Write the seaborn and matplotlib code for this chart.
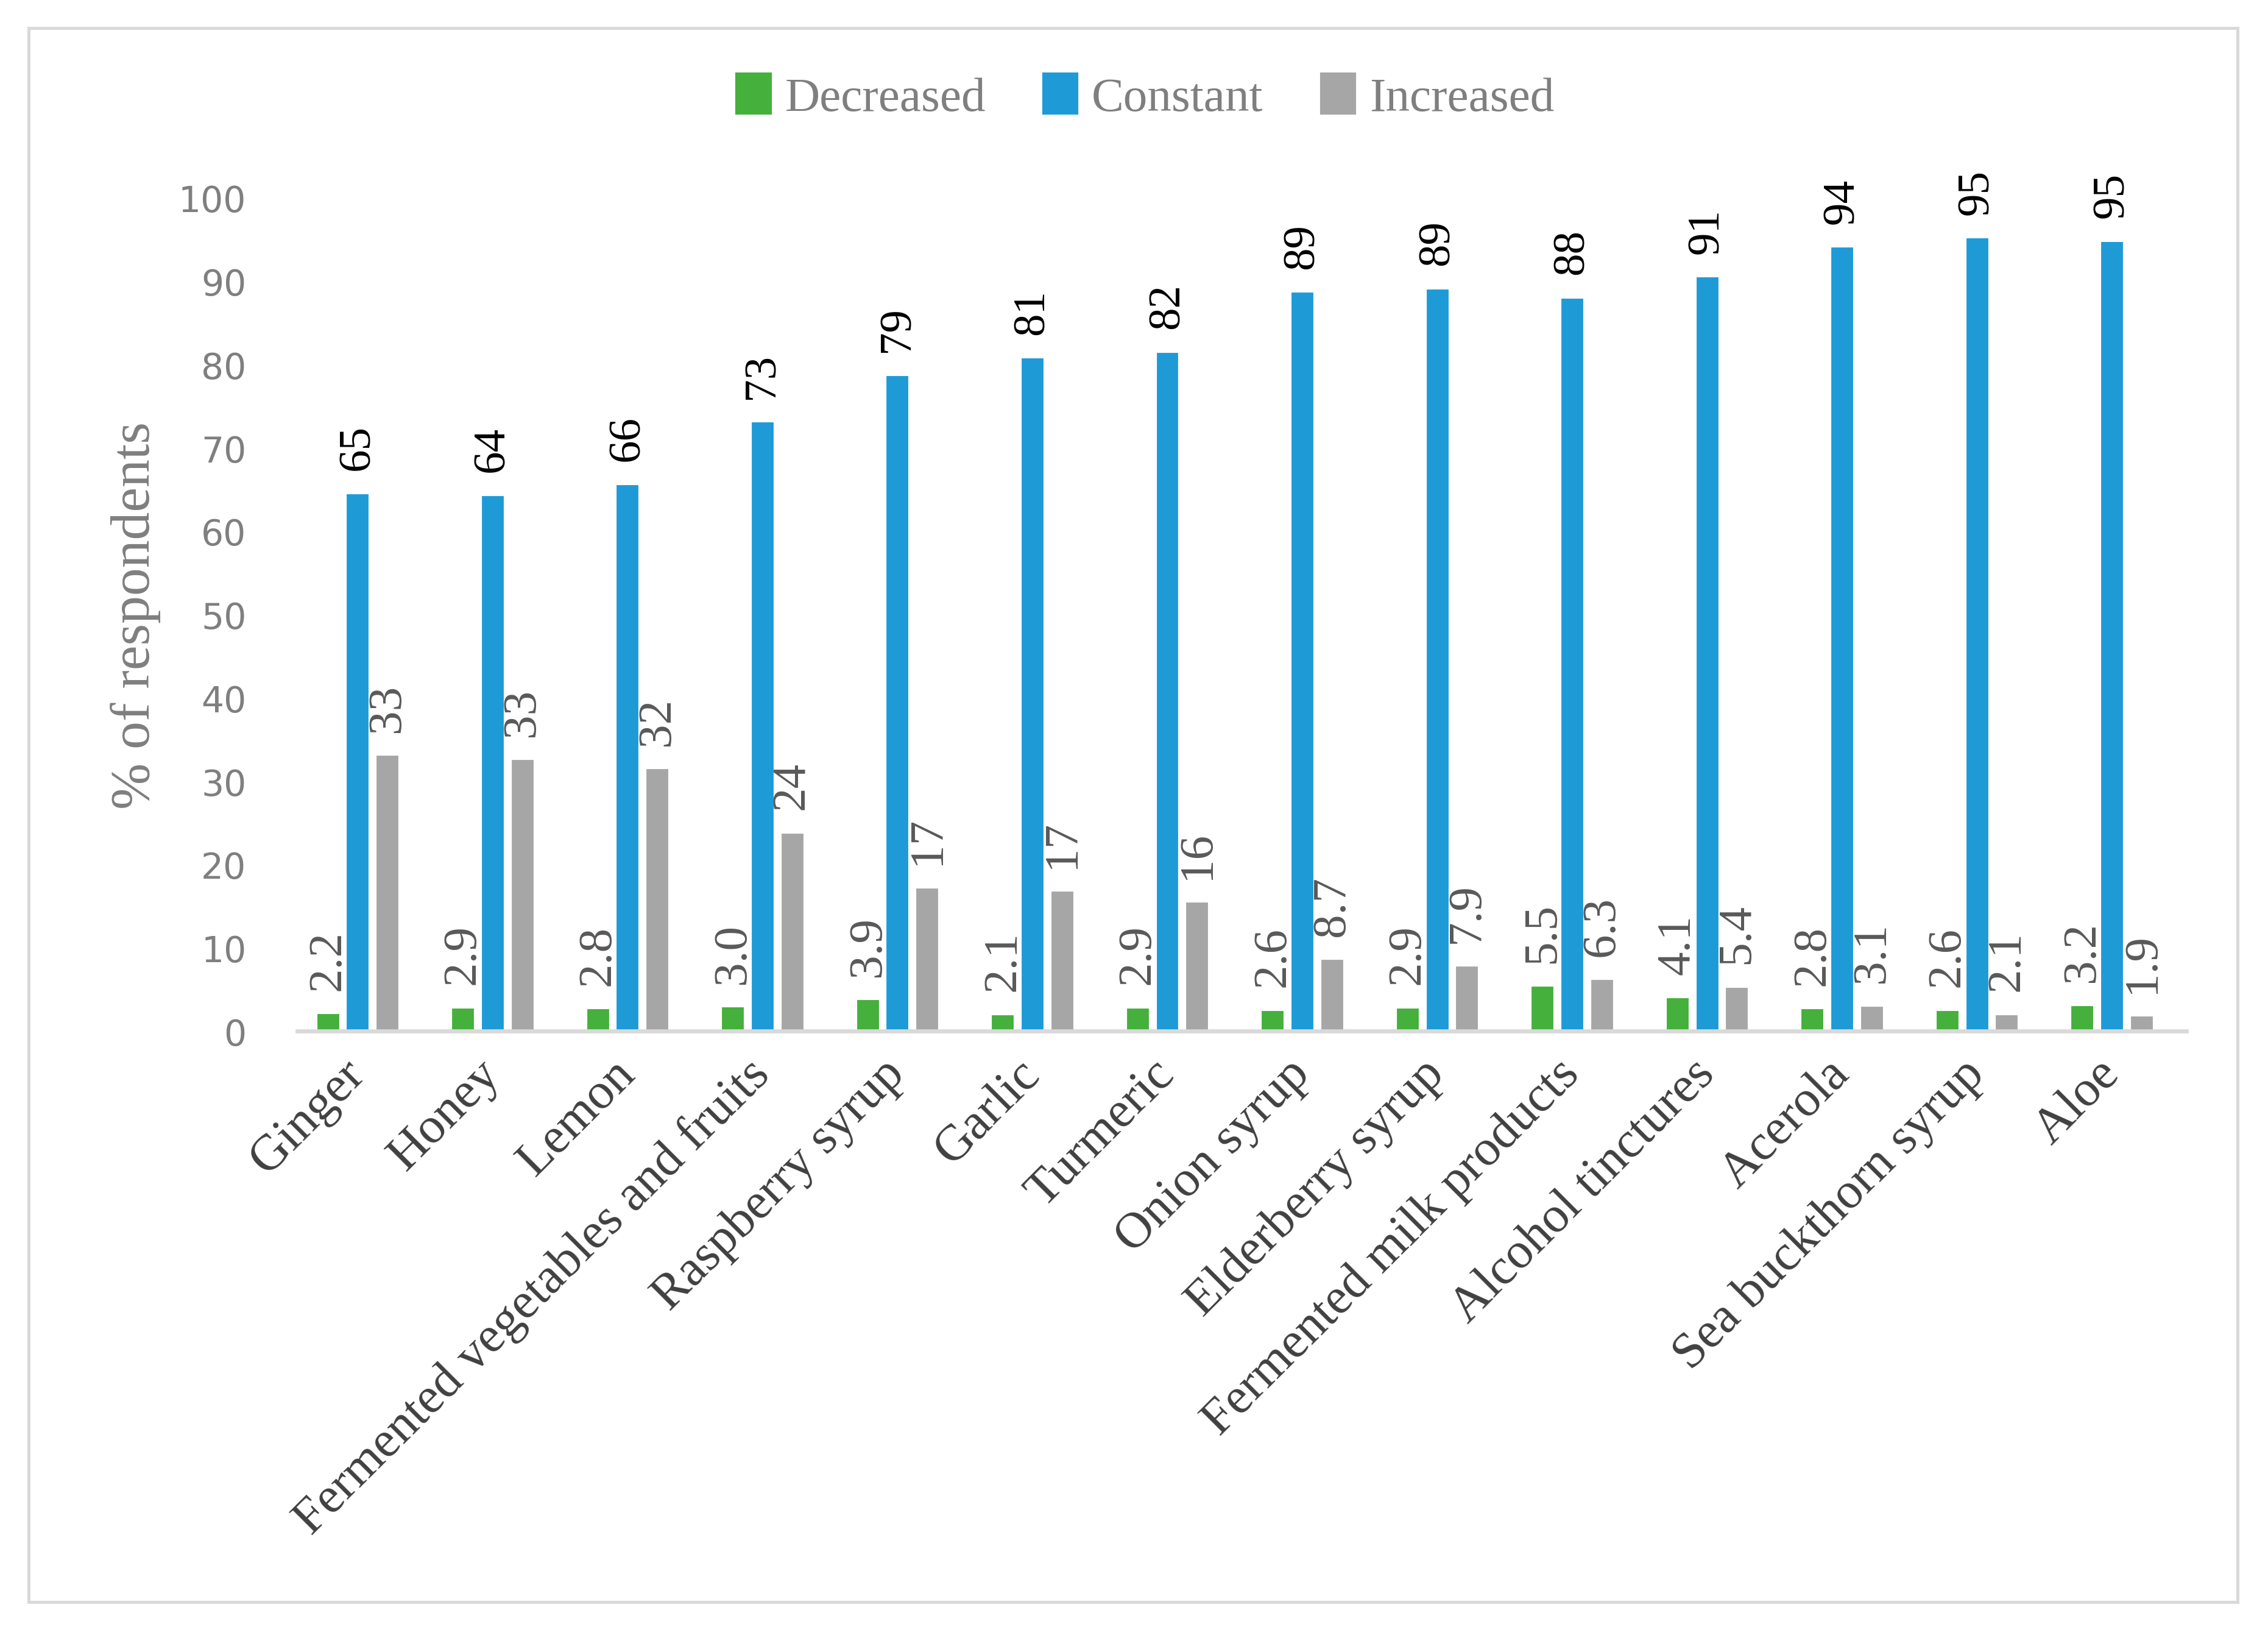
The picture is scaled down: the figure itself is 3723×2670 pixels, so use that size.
import pandas as pd
import matplotlib.pyplot as plt
import seaborn as sns
from matplotlib.patches import Rectangle, Patch

sns.set_style('white')
plt.rcParams['font.family'] = ['Liberation Serif', 'DejaVu Serif']

items = ['Ginger', 'Honey', 'Lemon', 'Fermented vegetables and fruits', 'Raspberry syrup',
         'Garlic', 'Turmeric', 'Onion syrup', 'Elderberry syrup', 'Fermented milk products',
         'Alcohol tinctures', 'Acerola', 'Sea buckthorn syrup', 'Aloe']
decreased = [2.2, 2.9, 2.8, 3.0, 3.9, 2.1, 2.9, 2.6, 2.9, 5.5, 4.1, 2.8, 2.6, 3.2]
constant = [64.6, 64.4, 65.7, 73.2, 78.8, 80.9, 81.6, 88.8, 89.2, 88.1, 90.6, 94.2, 95.3, 94.9]
increased = [33.2, 32.7, 31.6, 23.9, 17.3, 16.9, 15.6, 8.7, 7.9, 6.3, 5.4, 3.1, 2.1, 1.9]
statuses = ['Decreased', 'Constant', 'Increased']
colors = ['#45b03c', '#1e9bd7', '#a6a6a6']
label_colors = ['#595959', '#000000', '#595959']
label_sizes = [19, 18, 19]

df = pd.DataFrame({
    'item': items * 3,
    'status': [s for s in statuses for _ in items],
    'pct': decreased + constant + increased,
})

fig = plt.figure(figsize=(12.41, 8.903), dpi=300)
ax = fig.add_axes([0.131, 0.366, 0.833, 0.512])

sns.barplot(data=df, x='item', y='pct', hue='status', hue_order=statuses,
            palette=colors, saturation=1, width=0.66, gap=0.18, errorbar=None,
            ax=ax, legend=False)

def fmt(v):
    return f'{v:.0f}' if v >= 10 else f'{v:.1f}'

for cont, vals, lc, fs in zip(ax.containers, [decreased, constant, increased],
                              label_colors, label_sizes):
    texts = ax.bar_label(cont, labels=[fmt(v) for v in vals], rotation=90, padding=9,
                         fontsize=fs, color=lc)
    for t in texts:
        t.set_fontfamily('Liberation Serif')

ax.set_ylim(0, 100)
ax.set_xlim(-0.45, 13.55)
ax.set_yticks(range(0, 101, 10))
ax.set_yticklabels([str(t) for t in range(0, 101, 10)], family='DejaVu Sans')
ax.tick_params(axis='y', length=0, pad=20, labelsize=14, labelcolor='#7f7f7f')
ax.tick_params(axis='x', length=0, pad=14)
ax.set_xticks(range(len(items)))
ax.set_xticklabels(items, rotation=45, ha='right', va='center', rotation_mode='anchor',
                   fontsize=20, color='#404040')
ax.set_xlabel('')
ax.set_ylabel('% of respondents', fontsize=22, color='#7f7f7f')
ax.yaxis.set_label_coords(-0.072, 0.5)

for side in ['top', 'right', 'left']:
    ax.spines[side].set_visible(False)
ax.spines['bottom'].set_color('#d9d9d9')
ax.spines['bottom'].set_linewidth(1.6)
ax.grid(False)

handles = [Patch(color=c, label=s) for c, s in zip(colors, statuses)]
fig.legend(handles=handles, loc='center', bbox_to_anchor=(0.505, 0.94), ncol=3,
           frameon=False, handlelength=0.7, handleheight=0.9, handletextpad=0.3,
           columnspacing=1.2, prop={'size': 19}, labelcolor='#7f7f7f')

fig.patches.append(Rectangle((0.0127, 0.0153), 0.974, 0.967, transform=fig.transFigure,
                             fill=False, edgecolor='#d9d9d9', linewidth=1.2))

fig.savefig('out.png', dpi=300)
